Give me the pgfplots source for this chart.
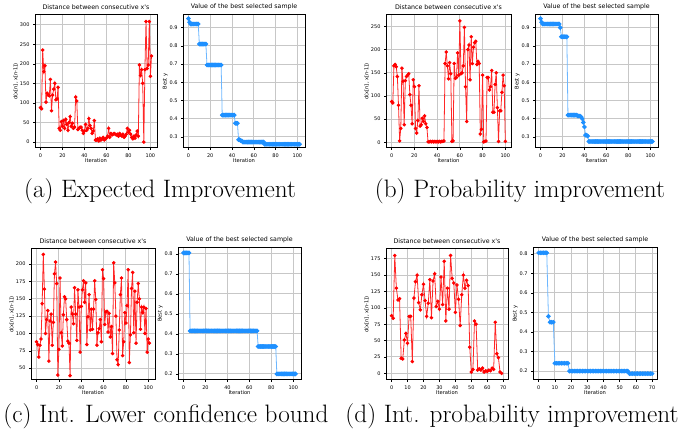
\documentclass[border=0pt]{standalone}
\usepackage{fontspec}
\usepackage{pgfplots}
\pgfplotsset{compat=1.18}
\newfontfamily\dv{DejaVu Sans}
\definecolor{dblue}{RGB}{30,144,255}
\pgfplotsset{
  base/.style={scale only axis, width=122bp, height=133bp,
    axis line style={line width=0.9pt, black},
    grid=major, grid style={line width=1pt, black!22},
    xtick pos=bottom, ytick pos=left, tick align=outside,
    major tick length=2pt, tick style={black, line width=0.5pt},
    /pgf/number format/assume math mode=true,
    tick label style={font=\dv\fontsize{5}{5.5}\selectfont, black},
    title style={font=\dv\fontsize{6.3}{7}\selectfont, yshift=-4pt},
    label style={font=\dv\fontsize{5.2}{6}\selectfont},
    xlabel style={yshift=5pt},
    ylabel style={yshift=-5pt},
    xlabel={Iteration},
    /pgf/number format/.cd, 1000 sep={}},
  dist/.style={base, title={Distance between consecutive x's}, ylabel={d(x[n], x[n-1])}},
  best/.style={base, title={Value of the best selected sample}, ylabel={Best y},
    yticklabel style={/pgf/number format/.cd, fixed, fixed zerofill, precision=1}},
  rl/.style={color=red!85, line width=0.8pt, mark=*, mark size=1.35pt, mark options={fill=red, draw=red}},
  bl/.style={color=dblue!65, line width=0.8pt, mark=*, mark size=1.9pt, mark options={fill=dblue, draw=dblue}},
}
\begin{document}
\begin{tikzpicture}
\path (0,0) rectangle (685bp,429bp);
% (a) distance
\begin{axis}[dist, at={(35bp,287bp)}, anchor=south west, xmin=-5, xmax=106, ymin=-15, ymax=325, xtick={0,20,...,100}, ytick={0,50,...,300}]
\addplot[rl] coordinates {(0,88)(1,85)(2,235)(3,180)(4,195)(5,102)(6,125)(7,120)(8,118)(9,160)(10,80)(11,120)(12,135)(13,150)(14,108)(15,110)(16,140)(17,35)(18,30)(19,52)(20,40)(21,55)(22,35)(23,58)(24,45)(25,30)(26,50)(27,65)(28,40)(29,48)(30,35)(31,38)(32,115)(33,105)(34,32)(35,35)(36,38)(37,38)(38,30)(39,22)(40,28)(41,45)(42,30)(43,35)(44,60)(45,42)(46,35)(47,22)(48,28)(49,55)(50,5)(51,5)(52,8)(53,3)(54,10)(55,5)(56,8)(57,12)(58,5)(59,8)(60,10)(61,15)(62,35)(63,12)(64,22)(65,18)(66,20)(67,22)(68,20)(69,18)(70,20)(71,15)(72,22)(73,18)(74,15)(75,20)(76,12)(77,15)(78,20)(79,35)(80,25)(81,30)(82,20)(83,12)(84,8)(85,15)(86,10)(87,18)(88,28)(89,15)(90,197)(91,170)(92,185)(93,150)(94,0)(95,185)(96,308)(97,188)(98,197)(99,308)(100,168)(101,220)};
\end{axis}
% (a) best
\begin{axis}[best, at={(183bp,287bp)}, anchor=south west, xmin=-5, xmax=107, ymin=0.24, ymax=0.97, xtick={0,20,...,100}, ytick={0.3,0.4,...,0.95}]
\addplot[bl] coordinates {(0,0.95)(1,0.93)(2,0.92)(3,0.92)(4,0.92)(5,0.92)(6,0.92)(7,0.92)(8,0.92)(9,0.92)(10,0.81)(11,0.81)(12,0.81)(13,0.81)(14,0.81)(15,0.81)(16,0.81)(17,0.695)(18,0.695)(19,0.695)(20,0.695)(21,0.695)(22,0.695)(23,0.695)(24,0.695)(25,0.695)(26,0.695)(27,0.695)(28,0.695)(29,0.695)(30,0.695)(31,0.42)(32,0.42)(33,0.42)(34,0.42)(35,0.42)(36,0.42)(37,0.42)(38,0.42)(39,0.42)(40,0.42)(41,0.42)(42,0.42)(43,0.375)(44,0.375)(45,0.375)(46,0.285)(47,0.285)(48,0.28)(49,0.278)(50,0.272)(51,0.272)(52,0.272)(53,0.272)(54,0.272)(55,0.272)(56,0.272)(57,0.272)(58,0.272)(59,0.272)(60,0.272)(61,0.272)(62,0.272)(63,0.272)(64,0.272)(65,0.272)(66,0.272)(67,0.272)(68,0.272)(69,0.272)(70,0.26)(71,0.26)(72,0.26)(73,0.26)(74,0.26)(75,0.26)(76,0.26)(77,0.26)(78,0.26)(79,0.26)(80,0.26)(81,0.26)(82,0.26)(83,0.26)(84,0.26)(85,0.26)(86,0.26)(87,0.26)(88,0.26)(89,0.26)(90,0.26)(91,0.26)(92,0.26)(93,0.26)(94,0.26)(95,0.26)(96,0.26)(97,0.26)(98,0.26)(99,0.26)(100,0.26)(101,0.26)(102,0.26)};
\end{axis}
% (b) distance
\begin{axis}[dist, at={(386bp,287bp)}, anchor=south west, width=125bp, xmin=-5, xmax=105, ymin=-12, ymax=275, xtick={0,20,...,100}, ytick={0,50,...,250}]
\addplot[rl] coordinates {(0,88)(1,85)(2,165)(3,168)(4,163)(5,142)(6,80)(7,3)(8,30)(9,160)(10,132)(11,38)(12,133)(13,142)(14,145)(15,148)(16,103)(17,80)(18,40)(19,135)(20,120)(21,30)(22,20)(23,47)(24,122)(25,35)(26,38)(27,52)(28,45)(29,57)(30,40)(31,32)(32,1)(33,1)(34,2)(35,1)(36,2)(37,1)(38,2)(39,1)(40,2)(41,1)(42,2)(43,1)(44,2)(45,2)(46,3)(47,170)(48,195)(49,165)(50,137)(51,172)(52,148)(53,2)(54,3)(55,170)(56,138)(57,140)(58,193)(59,145)(60,262)(61,148)(62,150)(63,165)(64,248)(65,120)(66,45)(67,200)(68,210)(69,135)(70,228)(71,170)(72,205)(73,215)(74,218)(75,168)(76,175)(77,170)(78,18)(79,28)(80,145)(81,1)(82,2)(83,3)(84,140)(85,140)(86,113)(87,120)(88,155)(89,65)(90,65)(91,125)(92,150)(93,75)(94,2)(95,68)(96,68)(97,108)(98,145)(99,122)(100,2)};
\end{axis}
% (b) best
\begin{axis}[best, at={(535bp,287bp)}, anchor=south west, width=123bp, xmin=-5, xmax=107, ymin=0.24, ymax=0.97, xtick={0,20,...,100}, ytick={0.3,0.4,...,0.95}]
\addplot[bl] coordinates {(0,0.95)(1,0.93)(2,0.92)(3,0.92)(4,0.92)(5,0.92)(6,0.92)(7,0.92)(8,0.92)(9,0.92)(10,0.92)(11,0.92)(12,0.92)(13,0.92)(14,0.92)(15,0.92)(16,0.92)(17,0.92)(18,0.90)(19,0.85)(20,0.85)(21,0.85)(22,0.85)(23,0.85)(24,0.85)(25,0.42)(26,0.42)(27,0.42)(28,0.42)(29,0.42)(30,0.42)(31,0.42)(32,0.42)(33,0.42)(34,0.415)(35,0.415)(36,0.415)(37,0.41)(38,0.40)(39,0.38)(40,0.355)(41,0.31)(42,0.31)(43,0.305)(44,0.275)(45,0.275)(46,0.275)(47,0.275)(48,0.275)(49,0.275)(50,0.275)(51,0.275)(52,0.275)(53,0.275)(54,0.275)(55,0.275)(56,0.275)(57,0.275)(58,0.275)(59,0.275)(60,0.275)(61,0.275)(62,0.275)(63,0.275)(64,0.275)(65,0.275)(66,0.275)(67,0.275)(68,0.275)(69,0.275)(70,0.275)(71,0.275)(72,0.275)(73,0.275)(74,0.275)(75,0.275)(76,0.275)(77,0.275)(78,0.275)(79,0.275)(80,0.275)(81,0.275)(82,0.275)(83,0.275)(84,0.275)(85,0.275)(86,0.275)(87,0.275)(88,0.275)(89,0.275)(90,0.275)(91,0.275)(92,0.275)(93,0.275)(94,0.275)(95,0.275)(96,0.275)(97,0.275)(98,0.275)(99,0.275)(100,0.275)(101,0.275)(102,0.275)};
\end{axis}
% (c) distance
\begin{axis}[dist, at={(31bp,55bp)}, anchor=south west, width=124bp, height=131bp, xmin=-5, xmax=106, ymin=33, ymax=222, xtick={0,20,...,100}, ytick={50,75,...,200}]
\addplot[rl] coordinates {(0,88)(1,84)(2,66)(3,83)(4,92)(5,143)(6,214)(7,164)(8,100)(9,120)(10,133)(11,60)(12,118)(13,128)(14,83)(15,116)(16,186)(17,203)(18,172)(19,40)(20,77)(21,180)(22,101)(23,82)(24,127)(25,153)(26,150)(27,120)(28,89)(29,86)(30,39)(31,138)(32,128)(33,114)(34,166)(35,128)(36,90)(37,163)(38,138)(39,73)(40,139)(41,163)(42,176)(43,145)(44,173)(45,84)(46,124)(47,156)(48,105)(49,135)(50,106)(51,135)(52,176)(53,149)(54,83)(55,101)(56,107)(57,120)(58,88)(59,192)(60,179)(61,113)(62,131)(63,132)(64,102)(65,129)(66,95)(67,110)(68,71)(69,202)(70,173)(71,125)(72,62)(73,55)(74,105)(75,156)(76,180)(77,68)(78,88)(79,130)(80,115)(81,140)(82,192)(83,58)(84,98)(85,165)(86,188)(87,101)(88,161)(89,86)(90,145)(91,172)(92,150)(93,106)(94,138)(95,130)(96,138)(97,100)(98,136)(99,73)(100,92)(101,86)};
\end{axis}
% (c) best
\begin{axis}[best, at={(178bp,55bp)}, anchor=south west, width=123bp, height=132bp, xmin=-5, xmax=107, ymin=0.17, ymax=0.83, xtick={0,20,...,100}, ytick={0.2,0.3,...,0.85}]
\addplot[bl] coordinates {(0,0.805)(1,0.805)(2,0.805)(3,0.805)(4,0.805)(5,0.805)(6,0.415)(7,0.415)(8,0.415)(9,0.415)(10,0.415)(11,0.415)(12,0.415)(13,0.415)(14,0.415)(15,0.415)(16,0.415)(17,0.415)(18,0.415)(19,0.415)(20,0.415)(21,0.415)(22,0.415)(23,0.415)(24,0.415)(25,0.415)(26,0.415)(27,0.415)(28,0.415)(29,0.415)(30,0.415)(31,0.415)(32,0.415)(33,0.415)(34,0.415)(35,0.415)(36,0.415)(37,0.415)(38,0.415)(39,0.415)(40,0.415)(41,0.415)(42,0.415)(43,0.415)(44,0.415)(45,0.415)(46,0.415)(47,0.415)(48,0.415)(49,0.415)(50,0.415)(51,0.415)(52,0.415)(53,0.415)(54,0.415)(55,0.415)(56,0.415)(57,0.415)(58,0.415)(59,0.415)(60,0.415)(61,0.415)(62,0.415)(63,0.415)(64,0.415)(65,0.415)(66,0.415)(67,0.415)(68,0.337)(69,0.337)(70,0.337)(71,0.337)(72,0.337)(73,0.337)(74,0.337)(75,0.337)(76,0.337)(77,0.337)(78,0.337)(79,0.337)(80,0.337)(81,0.337)(82,0.337)(83,0.337)(84,0.337)(85,0.20)(86,0.20)(87,0.20)(88,0.20)(89,0.20)(90,0.20)(91,0.20)(92,0.20)(93,0.20)(94,0.20)(95,0.20)(96,0.20)(97,0.20)(98,0.20)(99,0.20)(100,0.20)(101,0.20)(102,0.20)};
\end{axis}
% (d) distance
\begin{axis}[dist, at={(386bp,55bp)}, anchor=south west, width=122bp, height=131bp, xmin=-3.5, xmax=73, ymin=-10, ymax=190, xtick={0,10,...,70}, ytick={0,25,...,175}]
\addplot[rl] coordinates {(0,88)(1,84)(2,180)(3,130)(4,112)(5,114)(6,23)(7,22)(8,51)(9,61)(10,46)(11,87)(12,87)(13,18)(14,115)(15,140)(16,150)(17,108)(18,97)(19,120)(20,136)(21,111)(22,87)(23,107)(24,143)(25,85)(26,141)(27,152)(28,102)(29,110)(30,98)(31,147)(32,105)(33,171)(34,80)(35,130)(36,98)(37,180)(38,145)(39,138)(40,93)(41,135)(42,113)(43,73)(44,120)(45,150)(46,130)(47,142)(48,134)(49,40)(50,2)(51,6)(52,80)(53,75)(54,5)(55,7)(56,5)(57,8)(58,2)(59,4)(60,3)(61,5)(62,4)(63,8)(64,6)(65,78)(66,30)(67,24)(68,2)(69,0)};
\end{axis}
% (d) best
\begin{axis}[best, at={(533bp,55bp)}, anchor=south west, width=124bp, height=132bp, xmin=-3.5, xmax=73, ymin=0.155, ymax=0.83, xtick={0,10,...,70}, ytick={0.2,0.3,...,0.85}]
\addplot[bl] coordinates {(0,0.805)(1,0.805)(2,0.805)(3,0.805)(4,0.805)(5,0.805)(6,0.48)(7,0.45)(8,0.45)(9,0.45)(10,0.24)(11,0.24)(12,0.24)(13,0.24)(14,0.24)(15,0.24)(16,0.24)(17,0.24)(18,0.24)(19,0.20)(20,0.20)(21,0.20)(22,0.20)(23,0.20)(24,0.20)(25,0.20)(26,0.20)(27,0.20)(28,0.20)(29,0.20)(30,0.20)(31,0.20)(32,0.20)(33,0.20)(34,0.20)(35,0.20)(36,0.20)(37,0.20)(38,0.20)(39,0.20)(40,0.20)(41,0.20)(42,0.20)(43,0.20)(44,0.20)(45,0.20)(46,0.20)(47,0.20)(48,0.20)(49,0.20)(50,0.20)(51,0.20)(52,0.20)(53,0.20)(54,0.20)(55,0.20)(56,0.187)(57,0.187)(58,0.187)(59,0.187)(60,0.187)(61,0.187)(62,0.187)(63,0.187)(64,0.187)(65,0.187)(66,0.187)(67,0.187)(68,0.187)(69,0.187)(70,0.187)};
\end{axis}
% captions
\node[font=\fontsize{25.3}{29}\selectfont] at (160bp,244bp) {(a) Expected Improvement};
\node[font=\fontsize{25.3}{29}\selectfont] at (520bp,244bp) {(b) Probability improvement};
\node[font=\fontsize{25.3}{29}\selectfont] at (166bp,19bp) {(c) Int. Lower confidence bound};
\node[font=\fontsize{25.3}{29}\selectfont] at (512bp,19bp) {(d) Int. probability improvement};
\end{tikzpicture}
\end{document}
